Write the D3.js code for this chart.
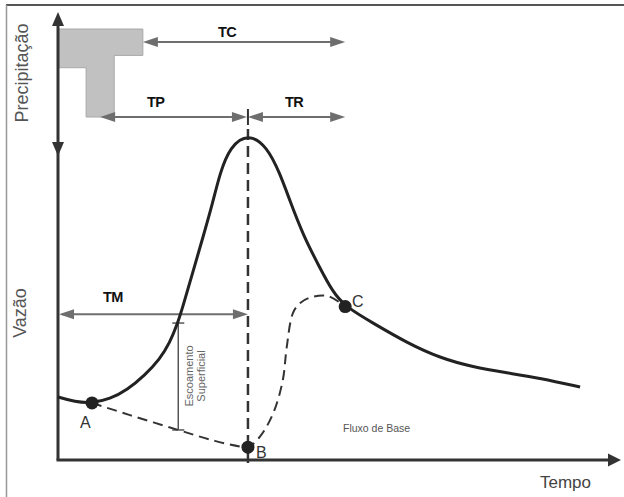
<!DOCTYPE html>
<html>
<head>
<meta charset="utf-8">
<script src="https://cdn.jsdelivr.net/npm/d3@7"></script>
<style>
  html, body { margin: 0; padding: 0; background: #fff; }
  svg { display: block; }
</style>
</head>
<body>
<svg id="chart" width="624" height="497"></svg>
<script>
// ---------- data ----------
// Hydrograph (time units, flow units)
const hydroTime = [0, 3, 6.05, 9.25, 12.3, 15.5, 18.1, 19.9, 21.2, 22.24, 24.0, 25.8, 27.6, 28.8, 30.6, 33.86, 37.2, 39.5, 41.3, 43.6, 46.6, 48.9, 51.1, 56.05, 62.1, 68.0, 73.8, 79.9, 85.8, 92.9];
const hydroFlow = [19.1, 17.6, 17.2, 18.5, 21.2, 25.8, 30.5, 35.6, 41.0, 46.6, 57.0, 67.5, 78.4, 86.8, 95.0, 99.0, 95.0, 86.8, 78.4, 68.2, 58.2, 50.9, 46.5, 41.5, 35.5, 30.9, 28.2, 26.4, 24.8, 22.1];
// Base flow separation (dashed)
const baseTime = [6.05, 12.8, 21.4, 27.9, 32.4, 33.8, 35.9, 38.3, 40.0, 40.7, 41.8, 43.1, 45.2, 48.0, 51.1];
const baseFlow = [17.3, 13.6, 9.1, 5.8, 4.1, 3.9, 7.0, 14.2, 24.2, 34.2, 44.5, 47.6, 49.4, 49.7, 46.5];
// Key points
const pointNames = ["A", "B", "C"];
const pointTime = [6.05, 33.8, 51.1];
const pointFlow = [17.3, 3.9, 46.5];
// Hyetograph (rain blocks)
const rainStart = [0, 5, 10];
const rainEnd = [5, 10, 15.1];
const rainDepth = [44, 100, 30];
// Time intervals
const intervalNames = ["TC", "TP", "TR", "TM"];
const intervalStart = [15.1, 7.5, 33.8, 0];
const intervalEnd = [51.1, 33.8, 51.1, 33.8];
// Times
const peakTime = 33.8, peakFlow = 97.3;
const surfTime = 21.4, surfBase = 9.1, surfTop = 41.5;
const tmFlow = 44.2;

// ---------- layout ----------
const svg = d3.select("#chart");
const x = d3.scaleLinear().domain([0, 100]).range([58, 620]);
const yQ = d3.scaleLinear().domain([0, 100]).range([460, 130]);
const yP = d3.scaleLinear().domain([0, 100]).range([29, 117]);

const axisColor = "#333";
const arrowColor = "#6e6e6e";

// frame
svg.append("line").attr("x1", 6).attr("x2", 624).attr("y1", 5).attr("y2", 5)
  .attr("stroke", "#555").attr("stroke-width", 2);
svg.append("line").attr("x1", 6.5).attr("x2", 6.5).attr("y1", 5).attr("y2", 497)
  .attr("stroke", "#999").attr("stroke-width", 1.5);

// helper: filled triangle arrowhead
function head(g, tipX, tipY, dir, len, hw, color) {
  let pts;
  if (dir === "right") pts = [[tipX, tipY], [tipX - len, tipY - hw], [tipX - len, tipY + hw]];
  if (dir === "left") pts = [[tipX, tipY], [tipX + len, tipY - hw], [tipX + len, tipY + hw]];
  if (dir === "up") pts = [[tipX, tipY], [tipX - hw, tipY + len], [tipX + hw, tipY + len]];
  if (dir === "down") pts = [[tipX, tipY], [tipX - hw, tipY - len], [tipX + hw, tipY - len]];
  g.append("path").attr("d", "M" + pts.map(p => p.join(",")).join("L") + "Z").attr("fill", color);
}

// hyetograph polygon
const rainPts = [[x(rainStart[0]), yP(0)]];
rainPts.push([x(rainEnd[2]), yP(0)]);
for (let i = rainStart.length - 1; i >= 0; i--) {
  rainPts.push([x(rainEnd[i]), yP(rainDepth[i])]);
  rainPts.push([x(rainStart[i]), yP(rainDepth[i])]);
}
svg.append("path")
  .attr("d", "M" + rainPts.map(p => p.join(",")).join("L") + "Z")
  .attr("fill", "#c1c1c1").attr("stroke", "#a8a8a8").attr("stroke-width", 1);

// axes
const ax = svg.append("g");
ax.append("line").attr("x1", x(0)).attr("x2", x(0)).attr("y1", 460).attr("y2", 20)
  .attr("stroke", axisColor).attr("stroke-width", 3);
ax.append("line").attr("x1", x(0) - 1.5).attr("x2", 610).attr("y1", yQ(0)).attr("y2", yQ(0))
  .attr("stroke", axisColor).attr("stroke-width", 3);
head(ax, x(0), 12, "up", 14, 6, axisColor);
head(ax, x(0), 156, "down", 14, 6, axisColor);
head(ax, 621, yQ(0), "right", 13, 6.5, axisColor);

// interval arrows
const rowY = { TC: 42, TP: 117, TR: 117, TM: yQ(tmFlow) };
const ag = svg.append("g");
intervalNames.forEach((n, i) => {
  const x0 = x(intervalStart[i]), x1 = x(intervalEnd[i]), yy = rowY[n];
  ag.append("line").attr("x1", x0 + 4).attr("x2", x1 - 4).attr("y1", yy).attr("y2", yy)
    .attr("stroke", arrowColor).attr("stroke-width", 2);
  if (n !== "TM") head(ag, x0, yy, "left", 15, 5, arrowColor);
  else head(ag, x0 + 1, yy, "left", 15, 5, arrowColor);
  if (n === "TP") head(ag, x1 - 1, yy, "right", 15, 5, arrowColor);
  else head(ag, x1, yy, "right", 15, 5, arrowColor);
});
// tick at peak time on TP/TR line
ag.append("line").attr("x1", x(peakTime)).attr("x2", x(peakTime)).attr("y1", 109).attr("y2", 125)
  .attr("stroke", "#333").attr("stroke-width", 2);

// interval labels
const labelPos = { TC: [218, 37], TP: [147, 107], TR: [285, 107], TM: [103, 302] };
intervalNames.forEach(n => {
  svg.append("text").attr("x", labelPos[n][0]).attr("y", labelPos[n][1])
    .attr("font-family", "Liberation Sans, Arial, sans-serif").attr("font-weight", "bold")
    .attr("font-size", 14.5).attr("letter-spacing", -0.6).attr("fill", "#111").text(n);
});

// dashed vertical at peak time
svg.append("line").attr("x1", x(peakTime)).attr("x2", x(peakTime))
  .attr("y1", yQ(peakFlow) - 10).attr("y2", yQ(0) + 5)
  .attr("stroke", "#333").attr("stroke-width", 2.5).attr("stroke-dasharray", "11,6");

// surface runoff bracket
const sg = svg.append("g").attr("stroke", "#555").attr("stroke-width", 1.5);
sg.append("line").attr("x1", x(surfTime)).attr("x2", x(surfTime)).attr("y1", yQ(surfTop)).attr("y2", yQ(surfBase));
sg.append("line").attr("x1", x(surfTime) - 6).attr("x2", x(surfTime) + 6).attr("y1", yQ(surfTop)).attr("y2", yQ(surfTop));
sg.append("line").attr("x1", x(surfTime) - 6).attr("x2", x(surfTime) + 6).attr("y1", yQ(surfBase)).attr("y2", yQ(surfBase));

// base flow dashed line
const baseGen = d3.line().x(d => x(d[0])).y(d => yQ(d[1])).curve(d3.curveCatmullRom.alpha(0.5));
svg.append("path").datum(baseTime.map((t, i) => [t, baseFlow[i]]))
  .attr("d", baseGen).attr("fill", "none").attr("stroke", "#333")
  .attr("stroke-width", 2).attr("stroke-dasharray", "10,6");

// hydrograph
const hydroGen = d3.line().x(d => x(d[0])).y(d => yQ(d[1])).curve(d3.curveBasis);
svg.append("path").datum(hydroTime.map((t, i) => [t, hydroFlow[i]]))
  .attr("d", hydroGen).attr("fill", "none").attr("stroke", "#222").attr("stroke-width", 3);

// points
pointNames.forEach((n, i) => {
  svg.append("circle").attr("cx", x(pointTime[i])).attr("cy", yQ(pointFlow[i])).attr("r", 6.5).attr("fill", "#222");
});
const ptLabelPos = { A: [80, 428], B: [256, 458], C: [352, 307] };
pointNames.forEach(n => {
  svg.append("text").attr("x", ptLabelPos[n][0]).attr("y", ptLabelPos[n][1])
    .attr("font-family", "Liberation Sans, Arial, sans-serif").attr("font-size", 16)
    .attr("fill", "#333").text(n);
});

// rotated axis titles
function vtext(txt, cx, cy, size, color) {
  svg.append("text").attr("transform", `translate(${cx},${cy}) rotate(-90)`)
    .attr("text-anchor", "middle").attr("font-family", "Liberation Sans, Arial, sans-serif")
    .attr("font-size", size).attr("fill", color).text(txt);
}
vtext("Precipitação", 28, 73, 18, "#555");
vtext("Vazão", 26, 313, 18, "#555");
vtext("Escoamento", 193, 376, 11, "#666");
vtext("Superficial", 205, 376, 11, "#666");

svg.append("text").attr("x", 343).attr("y", 432).attr("font-family", "Liberation Sans, Arial, sans-serif")
  .attr("font-size", 10.5).attr("fill", "#555").text("Fluxo de Base");
svg.append("text").attr("x", 540).attr("y", 488).attr("font-family", "Liberation Sans, Arial, sans-serif")
  .attr("font-size", 17).attr("fill", "#444").text("Tempo");
</script>
</body>
</html>
